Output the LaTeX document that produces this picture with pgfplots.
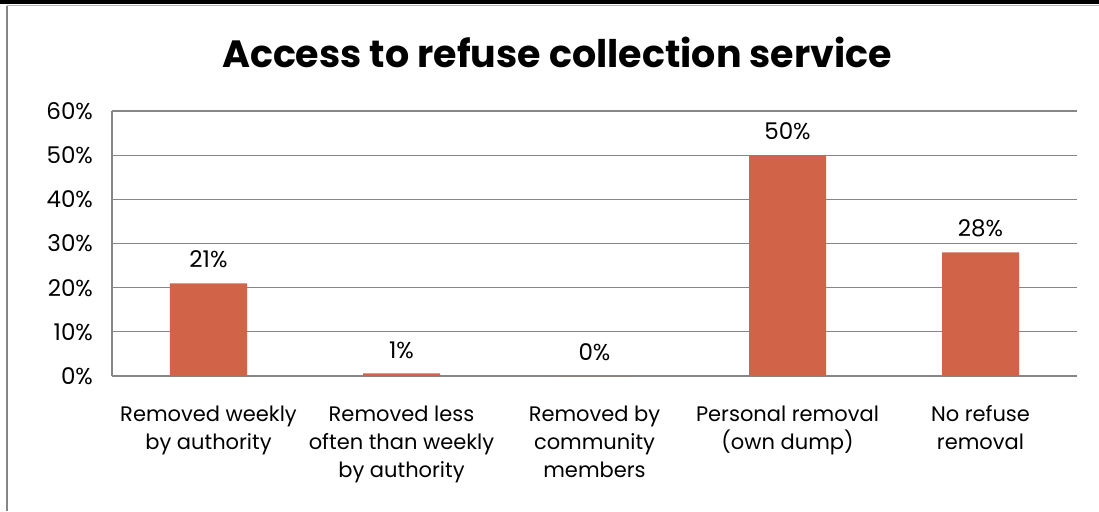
\documentclass[border=0pt]{standalone}
\usepackage{pgfplots}
\pgfplotsset{compat=1.18}
\usepackage{fontspec}
\setmainfont{Poppins}
\definecolor{barc}{RGB}{209,99,73}
\definecolor{gridc}{RGB}{134,134,134}
\begin{document}
\begin{tikzpicture}
\useasboundingbox (-56pt,-67.5pt) rectangle (493.5pt,188pt);
\draw[black,line width=1.6pt] (-56pt,187pt) -- (493.5pt,187pt);
\draw[gridc!60,line width=0.8pt] (-52.5pt,185.2pt) -- (493.5pt,185.2pt);
\draw[gridc,line width=1pt] (-52.5pt,185.2pt) -- (-52.5pt,-67.5pt);
\begin{axis}[
  at={(0,0)}, anchor=south west,
  scale only axis,
  width=482.5pt, height=132.5pt,
  xmin=-0.5, xmax=4.5,
  ymin=0, ymax=60,
  ytick={0,10,...,60},
  yticklabel={\pgfmathprintnumber{\tick}\%},
  /pgf/number format/assume math mode=true,
  ymajorgrids,
  grid style={gridc, line width=0.6pt},
  axis x line*=bottom,
  axis y line*=left,
  axis line style={gridc, line width=0.8pt},
  tick style={draw=none},
  xtick=data,
  xticklabels={{Removed weekly\\by authority},{Removed less\\often than weekly\\by authority},{Removed by\\community\\members},{Personal removal\\(own dump)},{No refuse\\removal}},
  xticklabel style={align=center, font=\fontsize{10.5pt}{14pt}\selectfont, anchor=north, yshift=-7pt},
  yticklabel style={font=\fontsize{11.5pt}{13pt}\selectfont, xshift=-6pt},
  ybar, bar width=38.5pt,
  nodes near coords={\pgfplotspointmeta\%},
  point meta=explicit symbolic,
  every node near coord/.append style={font=\fontsize{11.5pt}{13pt}\selectfont, yshift=4pt},
  clip=false,
]
\addplot[fill=barc, draw=none] coordinates {(0,21) [21] (1,0.6) [1] (2,0) [0] (3,50) [50] (4,28) [28]};
\end{axis}
\node[font=\bfseries\fontsize{19pt}{24pt}\selectfont] at (222.5pt,162pt) {Access to refuse collection service};
\end{tikzpicture}
\end{document}
